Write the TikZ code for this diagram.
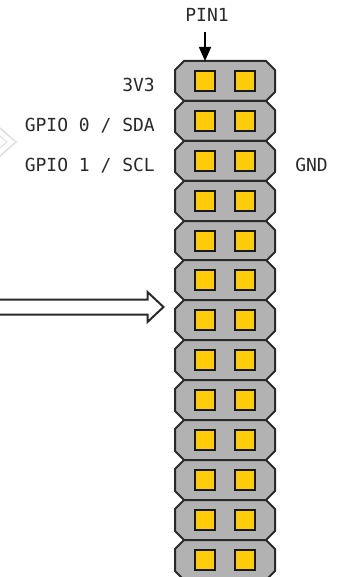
\documentclass[tikz,border=0pt]{standalone}
\usepackage{fontspec}
\setmonofont{DejaVu Sans Mono}
\usetikzlibrary{arrows.meta}
\definecolor{pinbody}{HTML}{B2B2B2}
\definecolor{pinpad}{HTML}{FFCC0A}
\definecolor{inkline}{HTML}{2A2A2A}
\tikzset{
  x=1pt,y=-1pt,
  labeltext/.style={font=\ttfamily\fontsize{18}{18}\selectfont,text=inkline,inner sep=0pt,text height=13pt,text depth=0pt},
  rowbody/.style={draw=inkline,line width=2pt,fill=pinbody,line join=round},
  padsq/.style={draw=black!90,line width=2.2pt,fill=pinpad,minimum size=20pt,inner sep=0pt},
  hollow/.style={draw=inkline,line width=2pt,fill=white,line join=miter},
}
\newcommand{\pinrow}[2]{%
  \draw[rowbody] (175,#1-11) -- (184,#1-20) -- (266,#1-20) -- (275,#1-11) -- (275,#1+11) -- (266,#1+20) -- (184,#1+20) -- (175,#1+11) -- cycle;
  \node[padsq] (a#2) at (205,#1) {};
  \node[padsq] (b#2) at (245,#1) {};
}
\begin{document}
\begin{tikzpicture}
\useasboundingbox (0,0) rectangle (343,577);
\fill[white] (0,0) rectangle (343,577);
% faint chevron remnant
\draw[draw=black!12,line width=1.5pt] (0,128) -- (16,142) -- (0,156);
\draw[draw=black!12,line width=1pt] (0,136) -- (7,142) -- (0,148);
\foreach \r [count=\i] in {81,121,161,201,241,280,320,360,400,440,480,520,560}{\pinrow{\r}{\i}}
\node[labeltext] (pin) at (207,15) {PIN1};
\coordinate (pintip) at (205,61);
\draw[line width=1.5pt,-{Triangle[length=14pt,width=12pt]}] (205,32) -- (pintip);
\node[labeltext,anchor=east] (l1) at (155,85) {3V3};
\node[labeltext,anchor=east] (l2) at (155,125) {GPIO 0 / SDA};
\node[labeltext,anchor=east] (l3) at (155,165) {GPIO 1 / SCL};
\node[labeltext,anchor=east] (l4) at (328,165) {GND};
\draw[hollow] (-2,299.5) -- (147.5,299.5) -- (147.5,292) -- (163.5,307) -- (147.5,322) -- (147.5,314.5) -- (-2,314.5) -- cycle;
\end{tikzpicture}
\end{document}
